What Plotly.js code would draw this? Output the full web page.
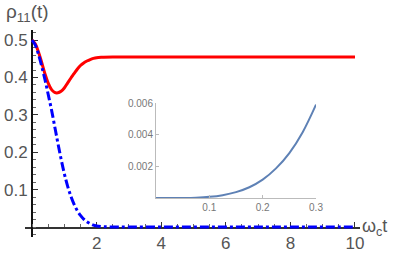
<!DOCTYPE html>
<html><head><meta charset="utf-8">
<script src="https://cdn.plot.ly/plotly-3.0.1.min.js"></script>
<style>html,body{margin:0;padding:0;background:#fff;}#chart{width:399px;height:255px;}</style>
</head><body><div id="chart"></div>
<script>
// Main plot data (time in units of 1/omega_c)
const tMain = [0,0.1,0.2,0.3,0.4,0.5,0.6,0.7,0.8,0.9,1.0,1.1,1.2,1.3,1.4,1.5,1.6,1.7,1.8,1.9,2.0,2.2,2.5,3,4,5,6,7,8,9,10];
const rhoRed = [0.5,0.49,0.468,0.44,0.41,0.385,0.368,0.36,0.359,0.363,0.372,0.385,0.398,0.41,0.422,0.432,0.439,0.444,0.448,0.451,0.453,0.454,0.455,0.455,0.455,0.455,0.455,0.455,0.455,0.455,0.455];
const rhoBlue = [0.5,0.487,0.462,0.43,0.395,0.355,0.315,0.27,0.225,0.182,0.143,0.11,0.083,0.061,0.044,0.031,0.021,0.014,0.009,0.005,0.003,0.001,0.0002,0,0,0,0,0,0,0,0];
// Inset data
const tInset = [0,0.025,0.05,0.075,0.1,0.125,0.15,0.175,0.2,0.225,0.25,0.275,0.3];
const rhoInset = [0,0.0000003,0.0000046,0.000023,0.000073,0.00018,0.00037,0.00068,0.00116,0.00187,0.00284,0.00416,0.0059];
const xTicks = [2,4,6,8,10];
const yTicks = [0.1,0.2,0.3,0.4,0.5];
const insetXTicks = [0.1,0.2,0.3];
const insetYTicks = [0.002,0.004,0.006];

const FONT = 'Liberation Sans, Arial, sans-serif';
const traces = [
  {x:tMain, y:rhoRed, mode:'lines', line:{color:'#ff0000', width:3, shape:'spline'}, xaxis:'x', yaxis:'y', hoverinfo:'skip'},
  {x:tMain, y:rhoBlue, mode:'lines', line:{color:'#0000ff', width:3, dash:'dashdot', shape:'spline'}, xaxis:'x', yaxis:'y', hoverinfo:'skip'},
  {x:tInset, y:rhoInset, mode:'lines', line:{color:'#5e81b5', width:2, shape:'spline'}, xaxis:'x2', yaxis:'y2', hoverinfo:'skip'}
];
const layout = {
  width:399, height:255,
  margin:{l:25, r:39, t:30, b:18},
  paper_bgcolor:'#fff', plot_bgcolor:'rgba(0,0,0,0)',
  showlegend:false,
  font:{family:FONT, color:'#555'},
  xaxis:{range:[-0.217,10.155], domain:[0,1], anchor:'free', position:0.0483,
    showline:true, linecolor:'#333', linewidth:1.5, showgrid:false, zeroline:false,
    tickmode:'array', tickvals:xTicks, ticks:'inside', ticklen:5, tickcolor:'#333', tickwidth:1,
    minor:{dtick:0.5, ticks:'inside', ticklen:3, tickcolor:'#666', showgrid:false},
    tickfont:{size:17, color:'#555', family:FONT}, layer:'below traces'},
  yaxis:{range:[-0.0267,0.527], domain:[0,1], anchor:'free', position:0.0209,
    showline:true, linecolor:'#111', linewidth:2, showgrid:false, zeroline:false,
    tickmode:'array', tickvals:yTicks, ticks:'inside', ticklen:5, tickcolor:'#333', tickwidth:1,
    minor:{dtick:0.02, ticks:'inside', ticklen:3, tickcolor:'#666', showgrid:false},
    tickfont:{size:17, color:'#555', family:FONT}, layer:'below traces'},
  xaxis2:{range:[0,0.3], domain:[0.391,0.8687], anchor:'y2',
    showline:true, linecolor:'#bbb', linewidth:1, showgrid:false, zeroline:false,
    tickmode:'array', tickvals:insetXTicks, ticks:'inside', ticklen:3, tickcolor:'#bbb',
    tickfont:{size:10, color:'#777', family:FONT}},
  yaxis2:{range:[0,0.006], domain:[0.1884,0.6473], anchor:'x2',
    showline:true, linecolor:'#bbb', linewidth:1, showgrid:false, zeroline:false,
    tickmode:'array', tickvals:insetYTicks, tickformat:'.3f', ticks:'inside', ticklen:3, tickcolor:'#bbb',
    tickfont:{size:10, color:'#777', family:FONT}},
  annotations:[
    {xref:'paper', yref:'paper', x:-0.062, y:1.08, xanchor:'left', yanchor:'middle', showarrow:false,
     text:'ρ<sub>11</sub>(t)', font:{size:19, color:'#555', family:FONT}},
    {xref:'paper', yref:'paper', x:1.0, y:0.0483, xanchor:'left', yanchor:'middle', showarrow:false,
     text:'ω<sub>c</sub>t', font:{size:18, color:'#555', family:FONT}}
  ]
};
Plotly.newPlot('chart', traces, layout, {staticPlot:true, displayModeBar:false});
</script></body></html>
